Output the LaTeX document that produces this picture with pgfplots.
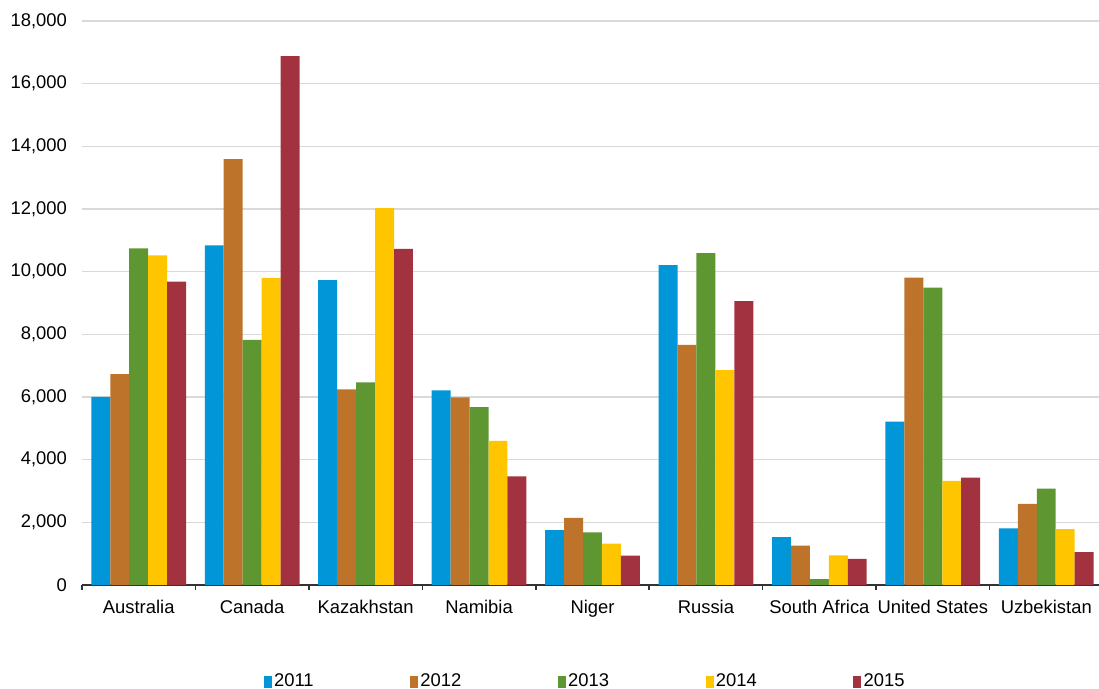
\documentclass[border=0pt]{standalone}
\usepackage{pgfplots}
\usepackage{pgfplotstable}
\pgfplotsset{compat=1.18}
\usepackage{fontspec}
\setmainfont{Liberation Sans}

\definecolor{cA}{HTML}{0096D7}
\definecolor{cB}{HTML}{BD732A}
\definecolor{cC}{HTML}{5E9732}
\definecolor{cD}{HTML}{FFC600}
\definecolor{cE}{HTML}{A33240}

% x: 0 Australia ... 8 Uzbekistan
\pgfplotstableread{
x  y2011  y2012  y2013  y2014  y2015
0  6000   6730   10740  10520  9680
1  10840  13590  7820   9800   16880
2  9730   6245   6470   12030  10730
3  6210   5990   5680   4600   3470
4  1755   2140   1680   1320   935
5  10210  7660   10590  6860   9060
6  1530   1255   190    945    830
7  5210   9810   9490   3320   3425
8  1810   2585   3075   1785   1045
}\prod

\begin{document}
\begin{tikzpicture}
\begin{axis}[
    at={(0,0)}, anchor=south west,
    scale only axis, width=510.5pt, height=282pt,
    ybar=0pt, bar width=0.167,
    xmin=-0.5, xmax=8.5, ymin=0, ymax=18000,
    xtick={0,...,8},
    xticklabels={Australia, Canada, Kazakhstan, Namibia, Niger, Russia, South Africa, United States, Uzbekistan},
    minor xtick={-0.5,0.5,...,8.5},
    major x tick style={draw=none},
    xtick align=outside,
    minor tick length=2.5pt,
    minor x tick style={black!80, line width=0.8pt},
    axis x line*=bottom, axis y line*=left,
    x axis line style={-, black!80, line width=1pt},
    y axis line style={draw=none},
    ytick={0,2000,...,18000}, major y tick style={draw=none},
    ymajorgrids, grid style={black!15, line width=0.8pt},
    scaled y ticks=false,
    tick label style={font=\fontsize{9.2}{11}\selectfont},
    yticklabel style={/pgf/number format/1000 sep={,}, /pgf/number format/assume math mode=true, xshift=-4pt},
    legend image code/.code={\fill[#1] (0pt,-2.8pt) rectangle (4pt,2.8pt);},
    legend columns=5,
    legend style={at={(axis description cs:0.493,-0.172)}, anchor=center, draw=none,
        font=\fontsize{9.2}{11}\selectfont,
        nodes={inner xsep=1.2pt},
        /tikz/every even column/.append style={column sep=47pt}},
]
\addplot[fill=cA, draw=none] table[x=x, y=y2011] {\prod};
\addplot[fill=cB, draw=none] table[x=x, y=y2012] {\prod};
\addplot[fill=cC, draw=none] table[x=x, y=y2013] {\prod};
\addplot[fill=cD, draw=none] table[x=x, y=y2014] {\prod};
\addplot[fill=cE, draw=none] table[x=x, y=y2015] {\prod};
\legend{2011, 2012, 2013, 2014, 2015}
\end{axis}
\pgfresetboundingbox
\useasboundingbox (-41pt,-52pt) rectangle (508.5pt,292.5pt);
\end{tikzpicture}
\end{document}
